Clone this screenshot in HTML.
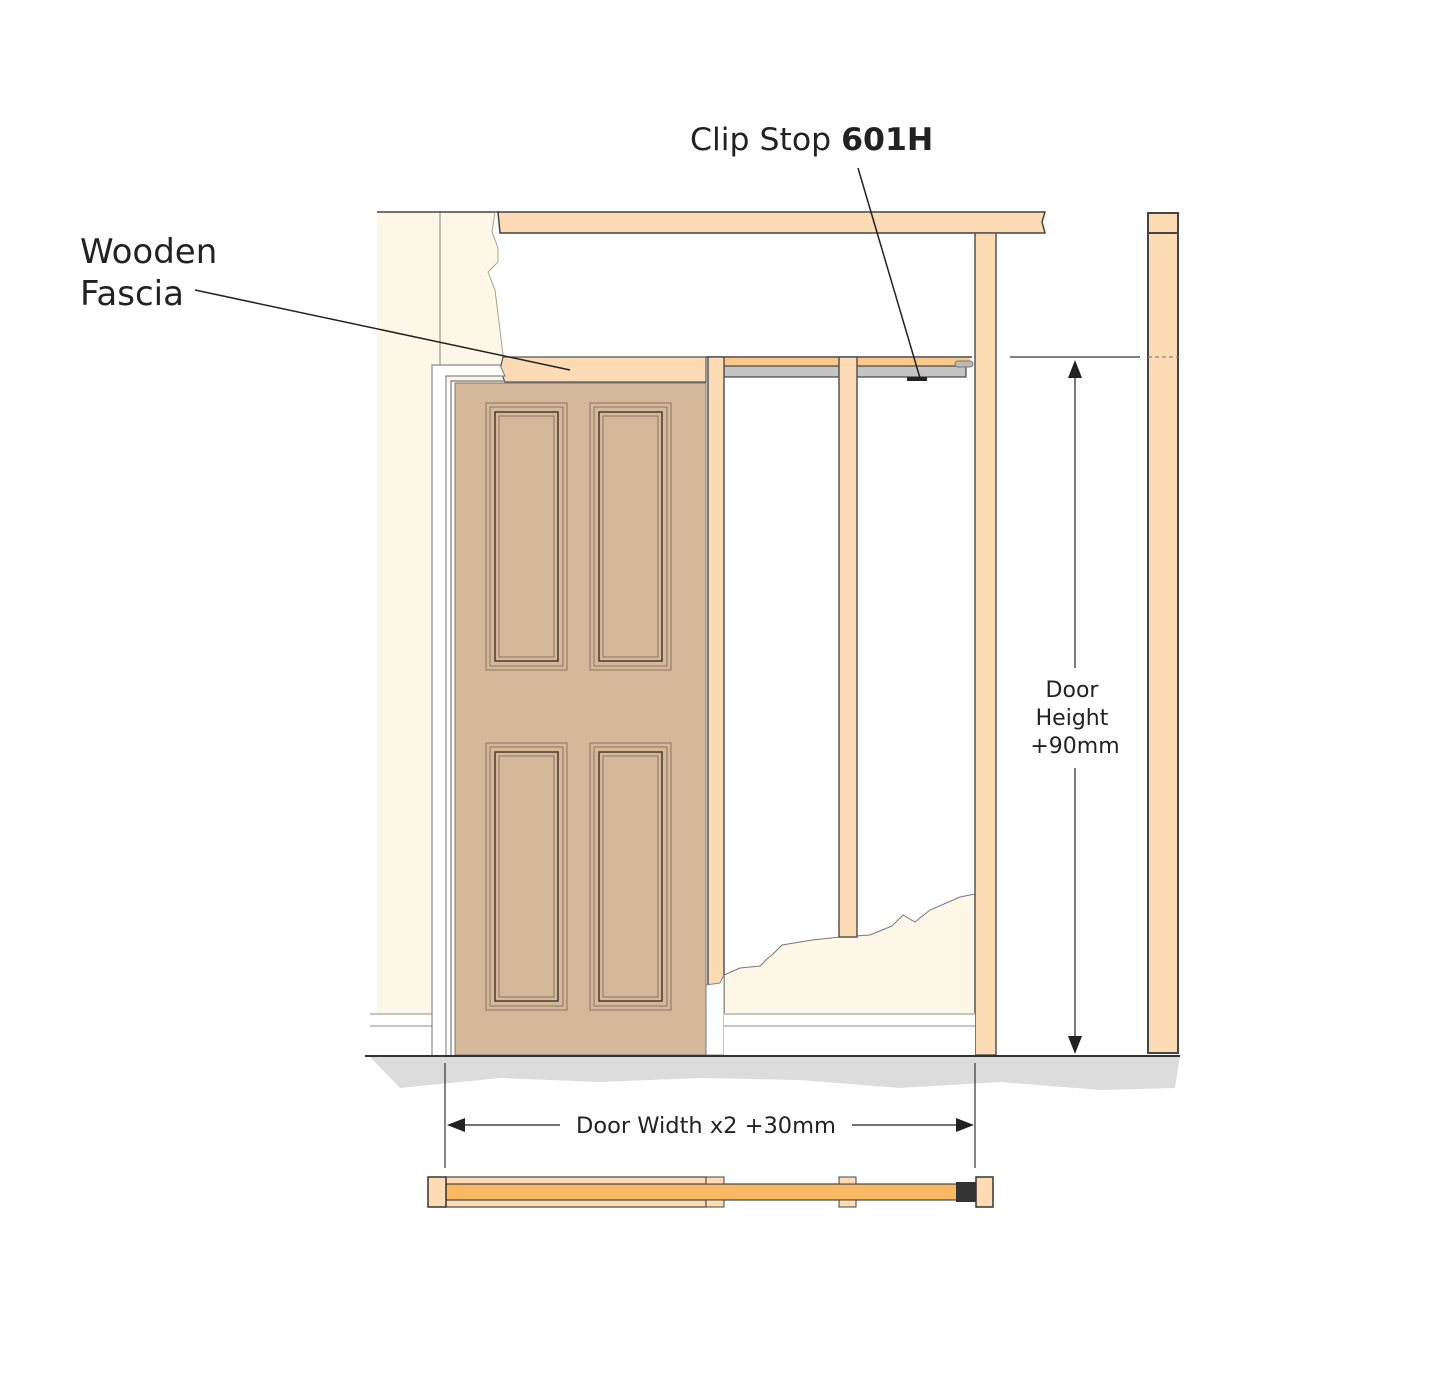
<!DOCTYPE html>
<html><head><meta charset="utf-8"><style>
html,body{margin:0;padding:0;background:#fff;}
svg{display:block;font-family:"DejaVu Sans","Liberation Sans",sans-serif;}
</style></head><body>
<svg width="1445" height="1399" viewBox="0 0 1445 1399" xmlns="http://www.w3.org/2000/svg">
<!-- floor shadow -->
<path d="M370,1057 L1180,1057 L1175,1088 L1100,1090 L1000,1082 L900,1088 L800,1080 L700,1078 L600,1082 L500,1078 L400,1088 Z" fill="#dcdcdd"/>
<!-- wall left cream -->
<path d="M377,212 L495,212 L492,232 L498,248 L498,262 L488,272 L495,290 L500,330 L503,355 L500,370 L505,383 L377,383 Z" fill="#fdf7e7"/>
<rect x="377" y="380" width="57" height="675" fill="#fdf7e7"/>
<line x1="440" y1="212" x2="440" y2="365" stroke="#8a8070" stroke-width="1"/>
<line x1="377" y1="212" x2="500" y2="212" stroke="#444" stroke-width="1.5"/>
<path d="M495,212 L492,232 L498,248 L498,262 L488,272 L495,290 L500,330 L503,355" fill="none" stroke="#aaa090" stroke-width="1"/>
<!-- torn plaster bottom right -->
<path d="M724,975 L740,968 L760,966 L768,958 L772,955 L782,945 L812,940 L840,937 L870,935 L892,926 L903,915 L915,922 L930,910 L960,897 L980,893 L980,1055 L724,1055 Z" fill="#fdf7e7"/>
<path d="M724,975 L740,968 L760,966 L768,958 L772,955 L782,945 L812,940 L840,937 L870,935 L892,926 L903,915 L915,922 L930,910 L960,897 L980,893" fill="none" stroke="#777" stroke-width="1"/>
<!-- top header -->
<path d="M498,212 L1045,212 L1042,222 L1045,233 L500,233 Z" fill="#fddbb4" stroke="#444" stroke-width="1.5"/>
<!-- right stud -->
<rect x="975" y="233" width="21" height="822" fill="#fddbb4" stroke="#555" stroke-width="1.5"/>
<!-- far right post -->
<rect x="1148" y="213" width="30" height="840" fill="#fddbb4" stroke="#444" stroke-width="2"/>
<line x1="1148" y1="233" x2="1178" y2="233" stroke="#444" stroke-width="2"/>
<line x1="1148" y1="357" x2="1178" y2="357" stroke="#888" stroke-width="1.2" stroke-dasharray="4,3"/>
<!-- fascia -->
<path d="M503,357 L706,357 L706,382 L505,382 L500,370 Z" fill="#fddbb4" stroke="#555" stroke-width="1.2"/>
<!-- track -->
<rect x="724" y="358" width="246" height="8" fill="#fbc98a"/>
<rect x="724" y="366" width="242" height="11" fill="#c4c4c4" stroke="#444" stroke-width="1.2"/>
<line x1="706" y1="357" x2="972" y2="357" stroke="#444" stroke-width="1.5"/>
<rect x="955" y="361" width="18" height="6" rx="3" fill="#bbb" stroke="#777"/>
<rect x="907" y="377" width="20" height="4" fill="#222"/>
<!-- studs -->
<rect x="708" y="357" width="16" height="698" fill="#fddbb4" stroke="#555" stroke-width="1.5"/>
<rect x="839" y="357" width="18" height="580" fill="#fddbb4" stroke="#555" stroke-width="1.5"/>
<path d="M706,985 L720,983 L724,975 L724,1055 L706,1055 Z" fill="#fff" stroke="#888" stroke-width="1"/>
<!-- skirting -->
<rect x="370" y="1013" width="63" height="42" fill="#fff"/>
<line x1="370" y1="1014" x2="432" y2="1014" stroke="#888"/>
<line x1="370" y1="1026" x2="432" y2="1026" stroke="#888"/>
<rect x="724" y="1013" width="251" height="42" fill="#fff"/>
<line x1="724" y1="1014" x2="975" y2="1014" stroke="#888"/>
<line x1="724" y1="1026" x2="975" y2="1026" stroke="#888"/>
<!-- door frame -->
<path d="M432,1055 L432,365 L500,365 L505,376 L446,376 L446,1055" fill="#fff" stroke="#888" stroke-width="1.2"/>
<path d="M451,1055 L451,381 L505,381" fill="none" stroke="#777" stroke-width="1.2"/>
<!-- door -->
<rect x="455" y="383" width="251" height="672" fill="#d4b89a" stroke="#777" stroke-width="1"/>
<g fill="none">
<g>
<rect x="486" y="403" width="81" height="267" stroke="#8a7560" stroke-width="1"/>
<rect x="490" y="407" width="73" height="259" stroke="#8a7560" stroke-width="1"/>
<rect x="495" y="412" width="63" height="249" stroke="#4a3a2c" stroke-width="1.5"/>
<rect x="499" y="416" width="55" height="241" stroke="#8a7560" stroke-width="1"/>
</g>
<g transform="translate(104,0)">
<rect x="486" y="403" width="81" height="267" stroke="#8a7560" stroke-width="1"/>
<rect x="490" y="407" width="73" height="259" stroke="#8a7560" stroke-width="1"/>
<rect x="495" y="412" width="63" height="249" stroke="#4a3a2c" stroke-width="1.5"/>
<rect x="499" y="416" width="55" height="241" stroke="#8a7560" stroke-width="1"/>
</g>
<g transform="translate(0,340)">
<rect x="486" y="403" width="81" height="267" stroke="#8a7560" stroke-width="1"/>
<rect x="490" y="407" width="73" height="259" stroke="#8a7560" stroke-width="1"/>
<rect x="495" y="412" width="63" height="249" stroke="#4a3a2c" stroke-width="1.5"/>
<rect x="499" y="416" width="55" height="241" stroke="#8a7560" stroke-width="1"/>
</g>
<g transform="translate(104,340)">
<rect x="486" y="403" width="81" height="267" stroke="#8a7560" stroke-width="1"/>
<rect x="490" y="407" width="73" height="259" stroke="#8a7560" stroke-width="1"/>
<rect x="495" y="412" width="63" height="249" stroke="#4a3a2c" stroke-width="1.5"/>
<rect x="499" y="416" width="55" height="241" stroke="#8a7560" stroke-width="1"/>
</g>
</g>
<!-- floor line -->
<line x1="365" y1="1056" x2="1180" y2="1056" stroke="#333" stroke-width="2"/>
<!-- height dimension -->
<line x1="1010" y1="357" x2="1140" y2="357" stroke="#333" stroke-width="1.2"/>
<line x1="1075" y1="370" x2="1075" y2="668" stroke="#222" stroke-width="1.2"/>
<line x1="1075" y1="768" x2="1075" y2="1040" stroke="#222" stroke-width="1.2"/>
<path d="M1075,360 L1068,378 L1082,378 Z" fill="#222"/>
<path d="M1075,1054 L1068,1036 L1082,1036 Z" fill="#222"/>
<g font-size="22" fill="#222" text-anchor="middle">
<text x="1072" y="697">Door</text>
<text x="1072" y="725">Height</text>
<text x="1075" y="753">+90mm</text>
</g>
<!-- width dimension -->
<line x1="445" y1="1063" x2="445" y2="1168" stroke="#333" stroke-width="1.2"/>
<line x1="975" y1="1063" x2="975" y2="1168" stroke="#333" stroke-width="1.2"/>
<line x1="460" y1="1125" x2="560" y2="1125" stroke="#222" stroke-width="1.2"/>
<line x1="852" y1="1125" x2="960" y2="1125" stroke="#222" stroke-width="1.2"/>
<path d="M447,1125 L465,1118 L465,1132 Z" fill="#222"/>
<path d="M974,1125 L956,1118 L956,1132 Z" fill="#222"/>
<text x="706" y="1133" font-size="22.5" fill="#222" text-anchor="middle">Door Width x2 +30mm</text>
<!-- plan -->
<rect x="446" y="1177" width="260" height="30" fill="#fddbb4" stroke="#444" stroke-width="1.2"/>
<rect x="446" y="1184" width="530" height="16" fill="#fbb862" stroke="#444" stroke-width="1.2"/>
<rect x="428" y="1177" width="18" height="30" fill="#fddbb4" stroke="#333" stroke-width="1.5"/>
<rect x="976" y="1177" width="17" height="30" fill="#fddbb4" stroke="#333" stroke-width="1.5"/>
<rect x="706" y="1177" width="18" height="7" fill="#fddbb4" stroke="#444"/>
<rect x="706" y="1200" width="18" height="7" fill="#fddbb4" stroke="#444"/>
<rect x="839" y="1177" width="17" height="7" fill="#fddbb4" stroke="#444"/>
<rect x="839" y="1200" width="17" height="7" fill="#fddbb4" stroke="#444"/>
<rect x="956" y="1182" width="20" height="20" fill="#333"/>
<!-- labels -->
<g font-size="34" fill="#222">
<text x="80" y="263">Wooden</text>
<text x="80" y="305">Fascia</text>
<text x="690" y="150" font-size="31.5">Clip Stop <tspan font-weight="bold">601H</tspan></text>
</g>
<line x1="195" y1="290" x2="570" y2="370" stroke="#222" stroke-width="1.5"/>
<line x1="858" y1="168" x2="920" y2="378" stroke="#222" stroke-width="1.5"/>
</svg>
</body></html>
